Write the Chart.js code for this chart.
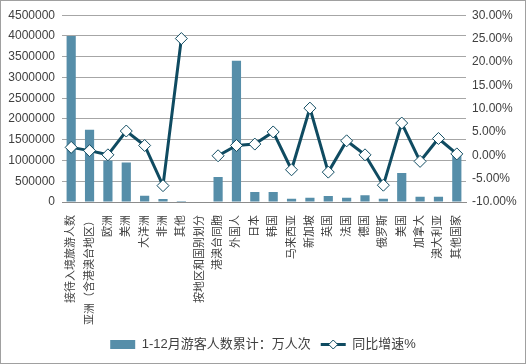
<!DOCTYPE html>
<html>
<head>
<meta charset="utf-8">
<script src="https://cdn.jsdelivr.net/npm/chart.js@4/dist/chart.umd.min.js"></script>
<style>
  html, body { margin: 0; padding: 0; background: #fff; }
  #wrap { width: 526px; height: 364px; box-sizing: border-box; border: 1px solid #a0a0a0; position: relative; }
  canvas { display: block; }
</style>
</head>
<body>
<div id="wrap"><canvas id="c" width="524" height="362"></canvas></div>
<script>
const categories = ['接待入境旅游人数','亚洲（含港澳台地区）','欧洲','美洲','大洋洲','非洲','其他','按地区和国别划分','港澳台同胞','外国人','日本','韩国','马来西亚','新加坡','英国','法国','德国','俄罗斯','美国','加拿大','澳大利亚','其他国家'];
const visitors = [4000000,1740000,1000000,950000,150000,70000,25000,null,600000,3400000,240000,240000,80000,100000,145000,100000,165000,80000,700000,125000,125000,1135000];
const growth = [1.7,1.0,0.1,5.2,2.1,-6.5,25.0,null,-0.1,2.1,2.4,5.0,-3.1,10.1,-3.6,3.1,0.1,-6.4,6.9,-1.3,3.6,0.3];
const leftTicks = { min: 0, max: 4500000, step: 500000 };
const rightTicks = { min: -10, max: 30, step: 5 };
const seriesNames = ['1-12月游客人数累计：万人次', '同比增速%'];

const BAR = '#568ea9';
const LINE = '#0f4b61';
const FONT = "'Liberation Sans', 'Noto Sans CJK SC', sans-serif";
const TXT = '#404040';

const legendDiamond = {
  id: 'legendDiamond',
  afterDraw(chart) {
    const lg = chart.legend;
    if (!lg || !lg.legendHitBoxes) return;
    const idx = lg.legendItems.findIndex(it => it.text === seriesNames[1]);
    if (idx < 0) return;
    const hb = lg.legendHitBoxes[idx];
    const bw = chart.options.plugins.legend.labels.pointStyleWidth;
    const cx = hb.left + bw / 2;
    const cy = hb.top + 6.5;
    const r = 4.5;
    const ctx = chart.ctx;
    ctx.save();
    ctx.beginPath();
    ctx.moveTo(cx, cy - r); ctx.lineTo(cx + r, cy); ctx.lineTo(cx, cy + r); ctx.lineTo(cx - r, cy); ctx.closePath();
    ctx.fillStyle = '#fff'; ctx.fill();
    ctx.lineWidth = 1; ctx.strokeStyle = LINE; ctx.stroke();
    ctx.restore();
  }
};

new Chart(document.getElementById('c'), {
  type: 'bar',
  data: {
    labels: categories,
    datasets: [
      {
        type: 'line',
        label: seriesNames[1],
        data: growth,
        yAxisID: 'y2',
        borderColor: LINE,
        borderWidth: 3,
        backgroundColor: '#fff',
        pointStyle: 'rectRot',
        pointRadius: 6,
        pointBorderWidth: 1,
        pointBorderColor: LINE,
        pointBackgroundColor: '#fff',
        spanGaps: false,
        tension: 0
      },
      {
        type: 'bar',
        label: seriesNames[0],
        data: visitors,
        yAxisID: 'y',
        backgroundColor: BAR,
        borderWidth: 0,
        categoryPercentage: 1,
        barPercentage: 0.5
      }
    ]
  },
  options: {
    responsive: false,
    animation: false,
    layout: { padding: { top: 11, left: 0, right: 0, bottom: 2 } },
    plugins: {
      tooltip: { enabled: false },
      legend: {
        position: 'bottom',
        reverse: true,
        labels: {
          usePointStyle: true,
          pointStyleWidth: 25,
          boxHeight: 9,
          padding: 10,
          color: TXT,
          font: { family: FONT, size: 13 },
          generateLabels(chart) {
            const items = Chart.defaults.plugins.legend.labels.generateLabels(chart);
            items.forEach(it => {
              if (it.text === seriesNames[0]) { it.pointStyle = 'rect'; it.lineWidth = 0; it.strokeStyle = BAR; }
              else { it.pointStyle = 'line'; it.lineWidth = 3; it.strokeStyle = LINE; }
            });
            return items;
          }
        }
      }
    },
    scales: {
      x: {
        grid: { display: false },
        border: { display: true, color: '#8c8c8c', width: 1 },
        ticks: {
          autoSkip: false, maxRotation: 90, minRotation: 90, padding: 5,
          color: TXT, font: { family: FONT, size: 11 }
        },
        afterFit(s) { s.height = 126; }
      },
      y: {
        position: 'left',
        min: leftTicks.min, max: leftTicks.max,
        ticks: { stepSize: leftTicks.step, padding: 7, color: TXT, font: { family: FONT, size: 12 },
          callback: v => String(v) },
        grid: { color: '#a6a6a6', drawTicks: false, lineWidth: 1 },
        border: { display: false },
        afterFit(s) { s.width = 61; }
      },
      y2: {
        position: 'right',
        min: rightTicks.min, max: rightTicks.max,
        ticks: { stepSize: rightTicks.step, padding: 6, color: TXT, font: { family: FONT, size: 12 },
          callback: v => v.toFixed(2) + '%' },
        grid: { display: false, drawTicks: false },
        border: { display: false },
        afterFit(s) { s.width = 59; }
      }
    }
  },
  plugins: [legendDiamond]
});
</script>
</body>
</html>
